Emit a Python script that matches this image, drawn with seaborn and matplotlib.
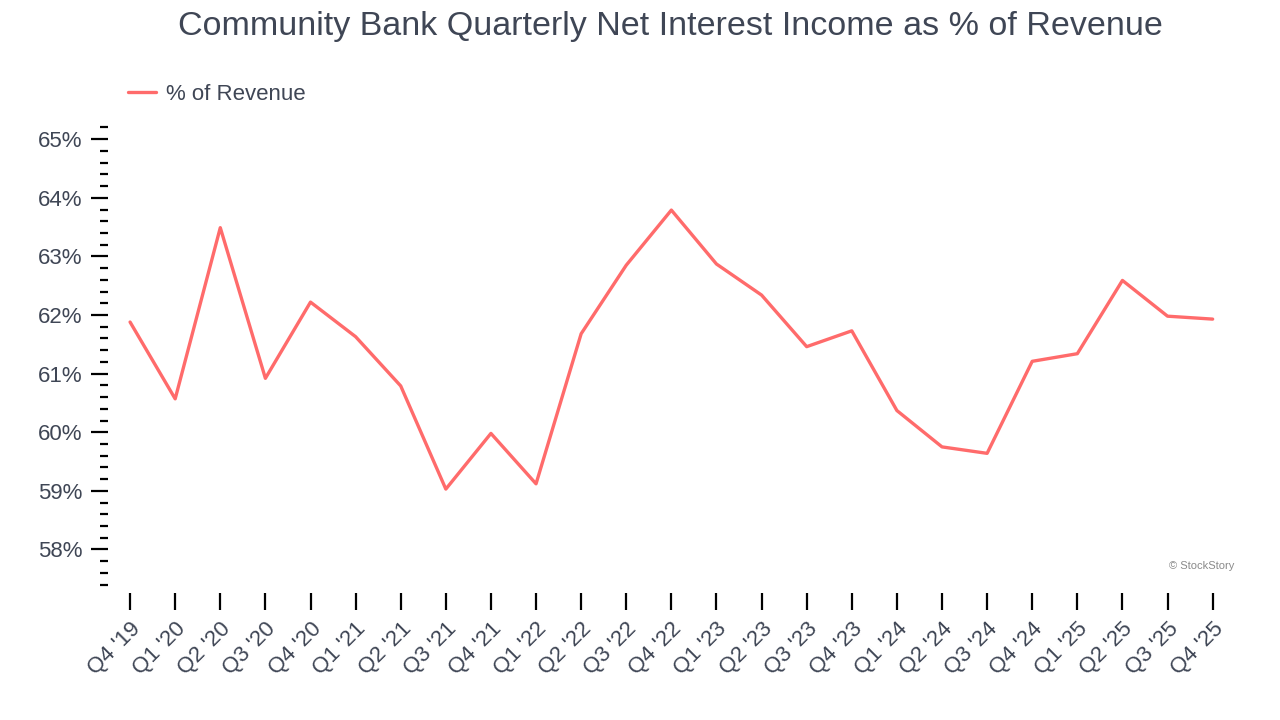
import pandas as pd
import seaborn as sns
import matplotlib.pyplot as plt
from matplotlib.ticker import MultipleLocator, FuncFormatter

# quarters and values
quarters = ["Q4 '19", "Q1 '20", "Q2 '20", "Q3 '20", "Q4 '20", "Q1 '21", "Q2 '21",
            "Q3 '21", "Q4 '21", "Q1 '22", "Q2 '22", "Q3 '22", "Q4 '22", "Q1 '23",
            "Q2 '23", "Q3 '23", "Q4 '23", "Q1 '24", "Q2 '24", "Q3 '24", "Q4 '24",
            "Q1 '25", "Q2 '25", "Q3 '25", "Q4 '25"]
pct_of_revenue = [61.88, 60.57, 63.49, 60.92, 62.22, 61.63, 60.79,
                  59.03, 59.98, 59.12, 61.68, 62.85, 63.79, 62.87,
                  62.34, 61.46, 61.73, 60.37, 59.75, 59.64, 61.21,
                  61.34, 62.59, 61.98, 61.93]

TEXT = "#3f4655"
LINE = "#ff6b6b"

sns.set_style("white")
plt.rcParams["font.family"] = ["Liberation Sans", "DejaVu Sans"]

df = pd.DataFrame({"idx": range(len(quarters)), "value": pct_of_revenue})

fig, ax = plt.subplots(figsize=(12.8, 7.2), dpi=100)
fig.subplots_adjust(left=0.084, right=0.965, top=0.823, bottom=0.188)

sns.lineplot(data=df, x="idx", y="value", color=LINE, linewidth=2.4,
             label="% of Revenue", ax=ax)

ax.set_xlim(-0.5, len(quarters) - 0.5)
ax.set_ylim(57.4, 65.2)

ax.yaxis.set_major_locator(MultipleLocator(1))
ax.yaxis.set_minor_locator(MultipleLocator(0.2))
ax.yaxis.set_major_formatter(FuncFormatter(lambda v, _: f"{v:.0f}%"))

for s in ax.spines.values():
    s.set_visible(False)
ax.spines["bottom"].set_position(("outward", 6))

ax.tick_params(axis="y", which="major", length=12, width=1.6, color="black",
               labelsize=16, labelcolor=TEXT, pad=6, left=True)
ax.tick_params(axis="y", which="minor", length=6, width=1.6, color="black", left=True)
ax.tick_params(axis="x", which="major", length=12, width=1.6, color="black",
               labelsize=16, labelcolor=TEXT, pad=6, bottom=True)

ax.set_xticks(range(len(quarters)))
ax.set_xticklabels(quarters)
plt.setp(ax.get_xticklabels(), rotation=45, ha="right", rotation_mode="anchor")

ax.set_xlabel("")
ax.set_ylabel("")

fig.suptitle("Community Bank Quarterly Net Interest Income as % of Revenue",
             fontsize=24.5, color=TEXT, x=0.524, y=0.985)

leg = ax.legend(loc="lower left", bbox_to_anchor=(0.01, 1.03), frameon=False,
                fontsize=16, handlelength=1.26, handletextpad=0.45, borderaxespad=0)
for t in leg.get_texts():
    t.set_color(TEXT)

ax.text(0.9995, 0.03, "© StockStory", transform=ax.transAxes, ha="right",
        va="bottom", fontsize=8, color="#8a8a8a")

fig.savefig("out.png", dpi=100)
